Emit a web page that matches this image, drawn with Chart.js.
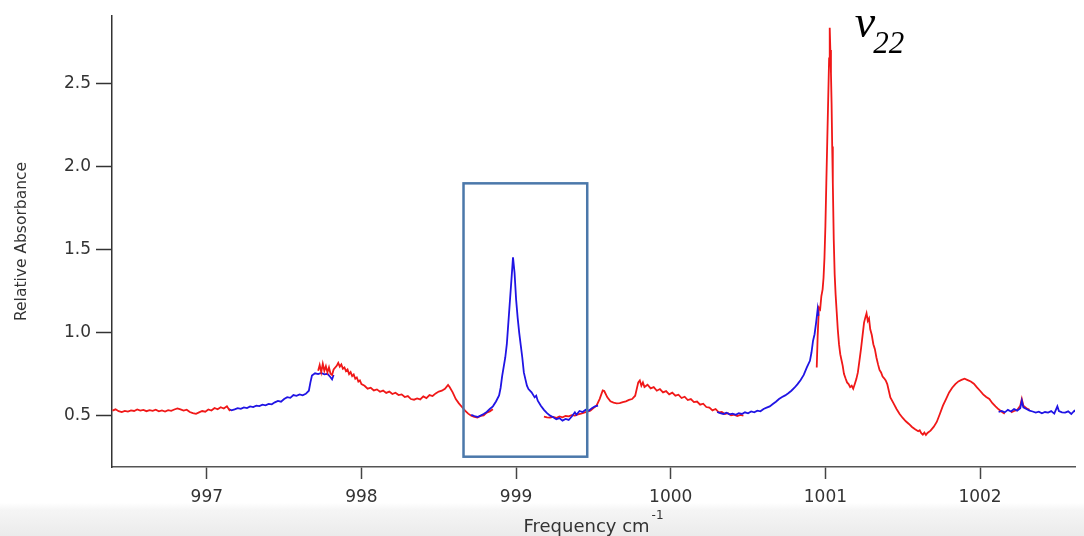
<!DOCTYPE html>
<html>
<head>
<meta charset="utf-8">
<script src="https://cdn.jsdelivr.net/npm/chart.js@4.4.1/dist/chart.umd.min.js"></script>
<style>
    html, body { margin: 0; padding: 0; }
    body {
        width: 1084px; height: 536px; overflow: hidden;
        background: linear-gradient(to bottom, #ffffff 0px, #ffffff 503px, #f5f5f5 510px, #ebebeb 536px);
    }
    canvas { display: block; }
</style>
</head>
<body>
<canvas id="spectre" width="1084" height="536"></canvas>
<script>
// axe des fréquences (cm-1) et absorbance relative
var xTicks = [997, 998, 999, 1000, 1001, 1002];
var yTicks = [0.5, 1.0, 1.5, 2.0, 2.5];
var xRange = [996.387, 1002.614];
var yRange = [0.191, 2.905];

// cadre autour de la bande à 999 cm-1
var boxFreq = [998.66, 999.46];
var boxAbs = [0.253, 1.898];

var modeLabel = 'v';
var modeIndex = '22';
var modeFreq = 1001.19;
var modeAbs = 2.78;

// segments rouges
var rouge1 = [
    [996.39, 0.530], [996.41, 0.538], [996.43, 0.527], [996.45, 0.521], [996.47, 0.529], [996.49, 0.524],
    [996.51, 0.532], [996.53, 0.528], [996.55, 0.537], [996.57, 0.530], [996.59, 0.535], [996.61, 0.527],
    [996.63, 0.533], [996.65, 0.529], [996.67, 0.536], [996.69, 0.526], [996.71, 0.531], [996.73, 0.525],
    [996.75, 0.533], [996.77, 0.529], [996.79, 0.537], [996.81, 0.544], [996.83, 0.538], [996.85, 0.531],
    [996.87, 0.536], [996.89, 0.522], [996.91, 0.515], [996.93, 0.511], [996.95, 0.520], [996.97, 0.528],
    [996.99, 0.524], [997.01, 0.537], [997.03, 0.531], [997.05, 0.546], [997.07, 0.538], [997.09, 0.551],
    [997.11, 0.543], [997.13, 0.556], [997.15, 0.528]
];
var rouge2 = [
    [997.72, 0.770], [997.73, 0.805], [997.74, 0.762], [997.75, 0.812], [997.76, 0.770], [997.77, 0.798],
    [997.78, 0.760], [997.79, 0.790], [997.80, 0.752], [997.81, 0.745], [997.82, 0.778], [997.84, 0.800],
    [997.85, 0.818], [997.86, 0.795], [997.87, 0.808], [997.88, 0.782], [997.89, 0.790], [997.90, 0.768],
    [997.91, 0.778], [997.92, 0.750], [997.93, 0.762], [997.94, 0.738], [997.95, 0.748], [997.96, 0.722],
    [997.97, 0.730], [997.98, 0.705], [997.99, 0.712], [998.00, 0.690], [998.02, 0.680], [998.04, 0.662],
    [998.06, 0.668], [998.08, 0.652], [998.10, 0.658], [998.12, 0.644], [998.14, 0.651], [998.16, 0.637],
    [998.18, 0.645], [998.20, 0.630], [998.22, 0.638], [998.24, 0.624], [998.26, 0.628], [998.28, 0.612],
    [998.30, 0.618], [998.32, 0.600], [998.34, 0.596], [998.36, 0.604], [998.38, 0.598], [998.40, 0.616],
    [998.42, 0.606], [998.44, 0.624], [998.46, 0.618], [998.48, 0.634], [998.50, 0.645], [998.52, 0.650],
    [998.54, 0.662], [998.56, 0.685], [998.57, 0.672], [998.59, 0.640], [998.61, 0.600], [998.63, 0.574],
    [998.65, 0.552], [998.67, 0.530], [998.69, 0.512], [998.71, 0.500], [998.73, 0.493], [998.75, 0.488],
    [998.77, 0.498], [998.79, 0.502], [998.81, 0.518], [998.83, 0.526], [998.85, 0.538]
];
var rouge3 = [
    [999.18, 0.494], [999.20, 0.490], [999.22, 0.488], [999.24, 0.492], [999.26, 0.486], [999.28, 0.495],
    [999.30, 0.490], [999.32, 0.498], [999.34, 0.496], [999.36, 0.503], [999.38, 0.500], [999.40, 0.508],
    [999.42, 0.512], [999.44, 0.518], [999.46, 0.524], [999.48, 0.530], [999.50, 0.545], [999.52, 0.560],
    [999.54, 0.600], [999.56, 0.652], [999.57, 0.648], [999.59, 0.610], [999.61, 0.586], [999.63, 0.578],
    [999.65, 0.574], [999.67, 0.576], [999.69, 0.582], [999.71, 0.586], [999.73, 0.595], [999.75, 0.600],
    [999.77, 0.620], [999.79, 0.700], [999.80, 0.712], [999.81, 0.680], [999.82, 0.700], [999.83, 0.672],
    [999.85, 0.686], [999.87, 0.664], [999.89, 0.672], [999.91, 0.650], [999.93, 0.660], [999.95, 0.640],
    [999.97, 0.648], [999.99, 0.628], [1000.01, 0.638], [1000.03, 0.620], [1000.05, 0.626], [1000.07, 0.606],
    [1000.09, 0.614], [1000.11, 0.594], [1000.13, 0.600], [1000.15, 0.582], [1000.17, 0.585], [1000.19, 0.566],
    [1000.21, 0.572], [1000.23, 0.552], [1000.25, 0.548], [1000.27, 0.532], [1000.29, 0.540], [1000.31, 0.520],
    [1000.33, 0.522], [1000.35, 0.510], [1000.37, 0.515], [1000.39, 0.502], [1000.41, 0.506], [1000.43, 0.498],
    [1000.45, 0.505], [1000.47, 0.500]
];
var rouge4 = [
    [1000.944, 0.790], [1000.950, 0.980], [1000.958, 1.150], [1000.966, 1.140], [1000.974, 1.220],
    [1000.982, 1.260], [1000.988, 1.330], [1000.994, 1.450], [1001.000, 1.640], [1001.006, 1.900],
    [1001.012, 2.150], [1001.018, 2.400], [1001.024, 2.650], [1001.028, 2.834], [1001.032, 2.700],
    [1001.036, 2.560], [1001.040, 2.380], [1001.044, 2.120], [1001.048, 1.900], [1001.054, 1.560],
    [1001.060, 1.350], [1001.066, 1.230], [1001.072, 1.140], [1001.080, 1.020], [1001.088, 0.930],
    [1001.096, 0.870], [1001.104, 0.835], [1001.112, 0.800], [1001.120, 0.752], [1001.130, 0.725],
    [1001.140, 0.700], [1001.150, 0.690], [1001.160, 0.672], [1001.170, 0.680], [1001.180, 0.662],
    [1001.190, 0.690], [1001.200, 0.720], [1001.210, 0.760], [1001.220, 0.830], [1001.230, 0.900],
    [1001.240, 0.980], [1001.250, 1.060], [1001.258, 1.090], [1001.266, 1.116], [1001.274, 1.070],
    [1001.282, 1.085], [1001.290, 1.020], [1001.300, 0.985], [1001.310, 0.930], [1001.320, 0.900],
    [1001.330, 0.850], [1001.340, 0.810], [1001.350, 0.775], [1001.360, 0.760], [1001.370, 0.735],
    [1001.380, 0.725], [1001.390, 0.712], [1001.400, 0.690], [1001.410, 0.650], [1001.420, 0.610],
    [1001.440, 0.575], [1001.460, 0.540], [1001.480, 0.510], [1001.500, 0.486], [1001.520, 0.466],
    [1001.540, 0.450], [1001.560, 0.432], [1001.580, 0.418], [1001.600, 0.406], [1001.610, 0.412],
    [1001.620, 0.395], [1001.630, 0.386], [1001.640, 0.398], [1001.650, 0.384], [1001.660, 0.396],
    [1001.680, 0.410], [1001.700, 0.432], [1001.720, 0.462], [1001.740, 0.510], [1001.760, 0.560],
    [1001.780, 0.600], [1001.800, 0.640], [1001.820, 0.668], [1001.840, 0.690], [1001.860, 0.706],
    [1001.880, 0.715], [1001.900, 0.722], [1001.920, 0.714], [1001.940, 0.706], [1001.960, 0.692],
    [1001.980, 0.670], [1002.000, 0.650], [1002.020, 0.628], [1002.040, 0.612], [1002.060, 0.600],
    [1002.080, 0.575], [1002.100, 0.556], [1002.120, 0.538], [1002.140, 0.524], [1002.160, 0.512]
];
var rouge5 = [
    [1002.20, 0.520], [1002.22, 0.528], [1002.24, 0.534], [1002.26, 0.560], [1002.27, 0.600],
    [1002.28, 0.560], [1002.30, 0.545], [1002.32, 0.535]
];

// segments bleus
var bleu1 = [
    [997.14, 0.540], [997.16, 0.532], [997.18, 0.538], [997.20, 0.545], [997.22, 0.541], [997.24, 0.550],
    [997.26, 0.546], [997.28, 0.556], [997.30, 0.552], [997.32, 0.560], [997.34, 0.557], [997.36, 0.566],
    [997.38, 0.562], [997.40, 0.571], [997.42, 0.568], [997.44, 0.580], [997.46, 0.589], [997.48, 0.584],
    [997.50, 0.600], [997.52, 0.611], [997.54, 0.607], [997.56, 0.624], [997.58, 0.619], [997.60, 0.628],
    [997.62, 0.622], [997.64, 0.631], [997.66, 0.650], [997.67, 0.700], [997.68, 0.742], [997.70, 0.755],
    [997.72, 0.750], [997.74, 0.757], [997.76, 0.749], [997.78, 0.752], [997.80, 0.731], [997.81, 0.718],
    [997.82, 0.745]
];
var bleu2 = [
    [998.71, 0.505], [998.73, 0.498], [998.75, 0.492], [998.77, 0.500], [998.79, 0.510], [998.81, 0.522],
    [998.83, 0.540], [998.85, 0.556], [998.87, 0.585], [998.89, 0.622], [998.90, 0.668], [998.91, 0.740],
    [998.93, 0.850], [998.94, 0.930], [998.95, 1.060], [998.96, 1.190], [998.97, 1.320], [998.98, 1.453],
    [998.99, 1.360], [999.00, 1.200], [999.01, 1.090], [999.02, 1.000], [999.03, 0.925], [999.04, 0.850],
    [999.05, 0.760], [999.06, 0.720], [999.07, 0.680], [999.08, 0.660], [999.10, 0.640], [999.12, 0.610],
    [999.13, 0.620], [999.14, 0.590], [999.16, 0.560], [999.18, 0.535], [999.20, 0.515], [999.22, 0.500],
    [999.24, 0.490], [999.26, 0.478], [999.28, 0.485], [999.30, 0.470], [999.32, 0.480], [999.34, 0.474],
    [999.36, 0.495], [999.38, 0.520], [999.39, 0.505], [999.41, 0.528], [999.43, 0.522], [999.45, 0.535],
    [999.47, 0.530], [999.49, 0.545], [999.51, 0.556], [999.53, 0.560]
];
var bleu3 = [
    [1000.30, 0.522], [1000.32, 0.515], [1000.34, 0.510], [1000.36, 0.518], [1000.38, 0.508], [1000.40, 0.512],
    [1000.42, 0.505], [1000.44, 0.515], [1000.46, 0.510], [1000.48, 0.520], [1000.50, 0.514], [1000.52, 0.525],
    [1000.54, 0.520], [1000.56, 0.530], [1000.58, 0.526], [1000.60, 0.540], [1000.62, 0.548], [1000.64, 0.556],
    [1000.66, 0.570], [1000.68, 0.584], [1000.70, 0.600], [1000.72, 0.612], [1000.74, 0.622], [1000.76, 0.635],
    [1000.78, 0.650], [1000.80, 0.668], [1000.82, 0.690], [1000.84, 0.715], [1000.86, 0.745], [1000.88, 0.790],
    [1000.90, 0.830], [1000.91, 0.880], [1000.92, 0.950], [1000.93, 0.990], [1000.94, 1.060], [1000.95, 1.140],
    [1000.955, 1.100]
];
var bleu4 = [
    [1002.12, 0.522], [1002.14, 0.528], [1002.16, 0.520], [1002.18, 0.535], [1002.20, 0.525], [1002.22, 0.540],
    [1002.24, 0.530], [1002.26, 0.545], [1002.27, 0.590], [1002.28, 0.550], [1002.30, 0.540], [1002.32, 0.530],
    [1002.34, 0.525], [1002.36, 0.518], [1002.38, 0.524], [1002.40, 0.514], [1002.42, 0.522], [1002.44, 0.518],
    [1002.46, 0.527], [1002.48, 0.512], [1002.50, 0.556], [1002.51, 0.528], [1002.53, 0.520], [1002.55, 0.518],
    [1002.57, 0.526], [1002.59, 0.510], [1002.61, 0.530], [1002.62, 0.522]
];

var ROUGE = '#f01818';
var BLEU = '#2014e4';

function segment(points, couleur, ordre) {
    return {
        data: points.map(function (p) { return { x: p[0], y: p[1] }; }),
        borderColor: couleur,
        backgroundColor: couleur,
        borderWidth: 1.8,
        pointRadius: 0,
        tension: 0,
        fill: false,
        order: ordre
    };
}

// cadre, étiquette du mode et titre de l'axe des x
var annotations = {
    id: 'annotations',
    afterDatasetsDraw: function (chart) {
        var ctx = chart.ctx;
        var xs = chart.scales.x, ys = chart.scales.y;
        var x0 = xs.getPixelForValue(boxFreq[0]), x1 = xs.getPixelForValue(boxFreq[1]);
        var y0 = ys.getPixelForValue(boxAbs[1]), y1 = ys.getPixelForValue(boxAbs[0]);
        ctx.save();
        ctx.strokeStyle = '#4b78aa';
        ctx.lineWidth = 2.5;
        ctx.strokeRect(x0, y0, x1 - x0, y1 - y0);

        var mx = xs.getPixelForValue(modeFreq), my = ys.getPixelForValue(modeAbs);
        ctx.fillStyle = '#000';
        ctx.textBaseline = 'alphabetic';
        ctx.textAlign = 'left';
        ctx.font = 'italic 46px "Liberation Serif"';
        ctx.fillText(modeLabel, mx, my);
        var w = ctx.measureText(modeLabel).width;
        ctx.font = 'italic 31px "Liberation Serif"';
        ctx.fillText(modeIndex, mx + w - 2, my + 16);
        ctx.restore();
    },
    afterDraw: function (chart) {
        var ctx = chart.ctx;
        var area = chart.chartArea;
        var titre = 'Frequency cm', exposant = '-1';
        ctx.save();
        ctx.fillStyle = '#333';
        ctx.textBaseline = 'alphabetic';
        ctx.textAlign = 'left';
        ctx.font = '18px "DejaVu Sans"';
        var w1 = ctx.measureText(titre).width;
        ctx.font = '12px "DejaVu Sans"';
        var w2 = ctx.measureText(exposant).width;
        var cx = (area.left + area.right) / 2;
        var gauche = cx - (w1 + w2 + 2) / 2;
        ctx.font = '18px "DejaVu Sans"';
        ctx.fillText(titre, gauche, 532);
        ctx.font = '12px "DejaVu Sans"';
        ctx.fillText(exposant, gauche + w1 + 2, 519);
        ctx.restore();
    }
};

var ctx = document.getElementById('spectre').getContext('2d');
var chart = new Chart(ctx, {
    type: 'line',
    data: {
        datasets: [
            segment(rouge1, ROUGE, 5),
            segment(bleu1, BLEU, 6),
            segment(rouge2, ROUGE, 4),
            segment(bleu2, BLEU, 1),
            segment(rouge3, ROUGE, 3),
            segment(bleu3, BLEU, 2),
            segment(rouge4, ROUGE, 3),
            segment(bleu4, BLEU, 2),
            segment(rouge5, ROUGE, 3)
        ]
    },
    options: {
        responsive: false,
        animation: false,
        devicePixelRatio: 1,
        layout: { padding: { top: 16, right: 9, bottom: 0, left: 0 } },
        plugins: { legend: { display: false }, tooltip: { enabled: false } },
        scales: {
            x: {
                type: 'linear',
                min: xRange[0],
                max: xRange[1],
                afterBuildTicks: function (axis) {
                    axis.ticks = xTicks.map(function (v) { return { value: v }; });
                },
                afterFit: function (scale) { scale.height = 69; },
                grid: { drawOnChartArea: false, drawTicks: true, tickLength: 12, tickColor: '#444', tickWidth: 1.5 },
                border: { display: true, color: '#555', width: 1.5 },
                ticks: {
                    color: '#333',
                    padding: 8,
                    maxRotation: 0,
                    font: { family: 'DejaVu Sans', size: 17 },
                    callback: function (v) { return String(v); }
                }
            },
            y: {
                type: 'linear',
                min: yRange[0],
                max: yRange[1],
                afterBuildTicks: function (axis) {
                    axis.ticks = yTicks.map(function (v) { return { value: v }; });
                },
                afterFit: function (scale) { scale.width = 112; },
                grid: { drawOnChartArea: false, drawTicks: true, tickLength: 16, tickColor: '#333', tickWidth: 1.5 },
                border: { display: true, color: '#333', width: 1.5 },
                ticks: {
                    color: '#333',
                    padding: 5,
                    font: { family: 'DejaVu Sans', size: 17 },
                    callback: function (v) { return v.toFixed(1); }
                },
                title: {
                    display: true,
                    text: 'Relative Absorbance',
                    color: '#333',
                    font: { family: 'DejaVu Sans', size: 15.5 },
                    padding: { top: 13, bottom: 0 }
                }
            }
        }
    },
    plugins: [annotations]
});
</script>
</body>
</html>
